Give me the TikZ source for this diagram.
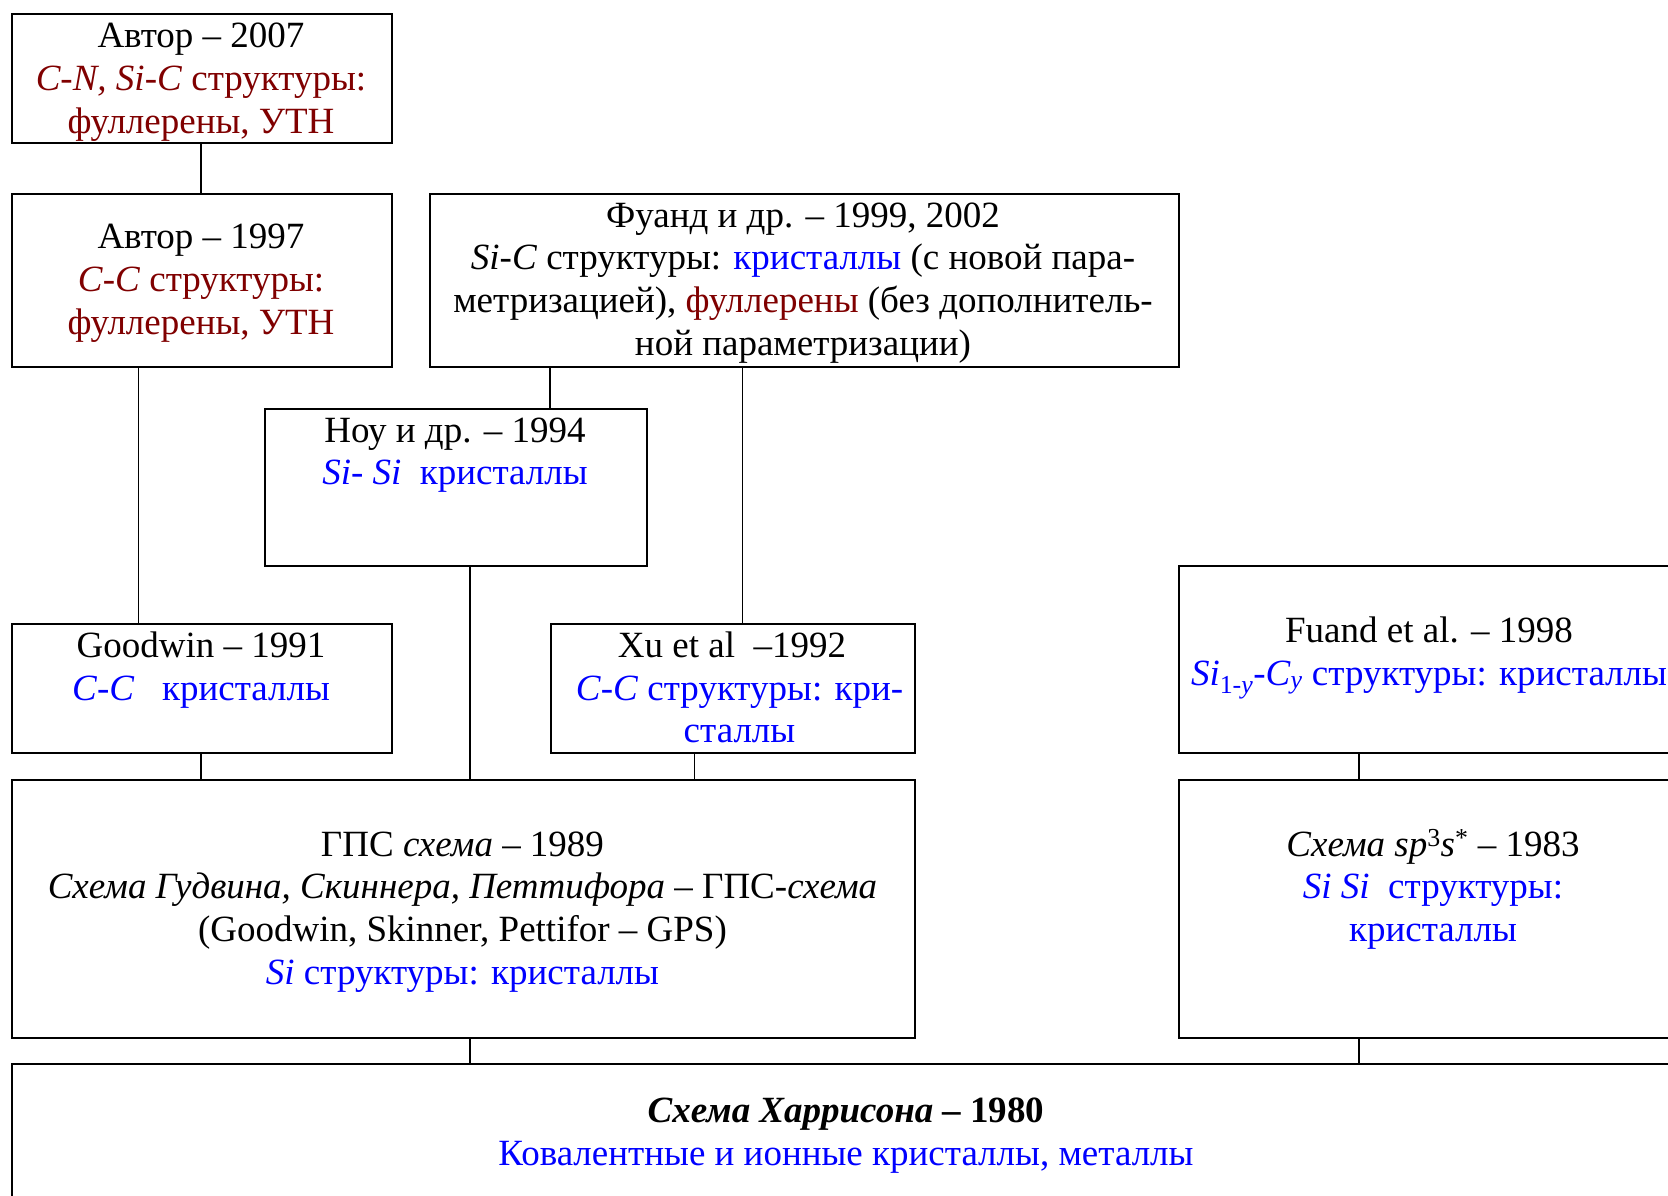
\documentclass[tikz,border=0pt]{standalone}
\usepackage{fontspec}
\setmainfont{Liberation Serif}
\definecolor{dred}{HTML}{800000}
\definecolor{blu}{HTML}{0000FF}
\newcommand{\rd}[1]{\textcolor{dred}{#1}}
\newcommand{\bl}[1]{\textcolor{blu}{#1}}
\begin{document}
\begin{tikzpicture}[x=1pt,y=-1pt,
  box/.style={draw, line width=2.4pt, inner sep=0pt, anchor=north west},
  txt/.style={font=\fontsize{37}{42.8}\selectfont, align=center, inner sep=0pt, anchor=base},
  link/.style={line width=1.5pt}]
\useasboundingbox (0,0) rectangle (1668,1195);
\clip (0,0) rectangle (1668,1195);
\fill[white] (0,0) rectangle (1668,1195);
% boxes
\node[box, minimum width=380pt, minimum height=128.5pt] (b1) at (10.5,13) {};
\node[box, minimum width=380pt, minimum height=173.5pt] (b2) at (10.5,192.5) {};
\node[box, minimum width=749pt, minimum height=173.5pt] (b3) at (429,192.5) {};
\node[box, minimum width=382pt, minimum height=157pt] (b4) at (264,407.5) {};
\node[box, minimum width=380pt, minimum height=129.5pt] (b5) at (10.5,622.5) {};
\node[box, minimum width=364pt, minimum height=129.5pt] (b6) at (550,622.5) {};
\node[box, minimum width=903.5pt, minimum height=258pt] (b7) at (10.5,779) {};
\node[box, minimum width=503pt, minimum height=187.5pt] (b8) at (1178,564.5) {};
\node[box, minimum width=503pt, minimum height=258pt] (b9) at (1178,779) {};
\node[box, minimum width=1670.5pt, minimum height=177pt] (b10) at (10.5,1063) {};
% texts (base anchor = baseline of the last line)
\node[txt] (t1) at (201,133.3) {Автор – 2007\\ \rd{\textit{C-N, Si-C} структуры:}\\ \rd{фуллерены, УТН}};
\node[txt] (t2) at (201,334.1) {Автор – 1997\\ \rd{\textit{C}-\textit{C} структуры:}\\ \rd{фуллерены, УТН}};
\node[txt] (t3) at (803,355.4) {Фуанд и др. – 1999, 2002\\ \textit{Si}-\textit{C} структуры: \bl{кристаллы} (с новой пара-\\ метризацией), \rd{фуллерены} (без дополнитель-\\ ной параметризации)};
\node[txt] (t4) at (455,484.8) {Ноу и др. – 1994\\ \bl{\textit{Si}- \textit{Si}\ \ кристаллы}};
\node[txt] (t5) at (201,700) {Goodwin – 1991\\ \bl{\textit{C}-\textit{C}\ \ \ кристаллы}};
\node[txt] (t6) at (732,742.8) {Xu et al\ \ –1992\\ \hspace*{15pt}\bl{\textit{C}-\textit{C} структуры: кри-}\\ \hspace*{15pt}\bl{сталлы}};
\node[txt] (t7) at (462.5,984.4) {ГПС \textit{схема} – 1989\\ \textit{Схема Гудвина, Скиннера, Петтифора} – ГПС-\textit{схема}\\ (Goodwin, Skinner, Pettifor – GPS)\\ \bl{\textit{Si} структуры: кристаллы}};
\node[txt] (t8) at (1429,685.1) {Fuand et al. – 1998\\ \bl{\textit{Si}\textsubscript{1-\textit{y}}-\textit{C}\textsubscript{\textit{y}} структуры: кристаллы}};
\node[txt] (t9) at (1433,941.6) {\textit{Схема sp}\textsuperscript{3}\textit{s}\textsuperscript{*} – 1983\\ \bl{\textit{Si Si}\ \ структуры:}\\ \bl{кристаллы}};
\node[txt] (t10) at (846,1165.5) {\textbf{\textit{Схема Харрисона} – 1980}\\ \bl{Ковалентные и ионные кристаллы, металлы}};
% connector positions
\coordinate (xa) at (201,0);
\coordinate (xb) at (138.5,0);
\coordinate (xc) at (550,0);
\coordinate (xd) at (742.5,0);
\coordinate (xe) at (470,0);
\coordinate (xf) at (694.5,0);
\coordinate (xg) at (1359,0);
% connectors
\draw[link] (xa |- b1.south) -- (xa |- b2.north);
\draw[link] (xb |- b2.south) -- (xb |- b5.north);
\draw[link] (xc |- b3.south) -- (xc |- b4.north);
\draw[link] (xd |- b3.south) -- (xd |- b6.north);
\draw[link] (xe |- b4.south) -- (xe |- b7.north);
\draw[link] (xa |- b5.south) -- (xa |- b7.north);
\draw[link] (xf |- b6.south) -- (xf |- b7.north);
\draw[link] (xg |- b8.south) -- (xg |- b9.north);
\draw[link] (xe |- b7.south) -- (xe |- b10.north);
\draw[link] (xg |- b9.south) -- (xg |- b10.north);
\end{tikzpicture}
\end{document}
